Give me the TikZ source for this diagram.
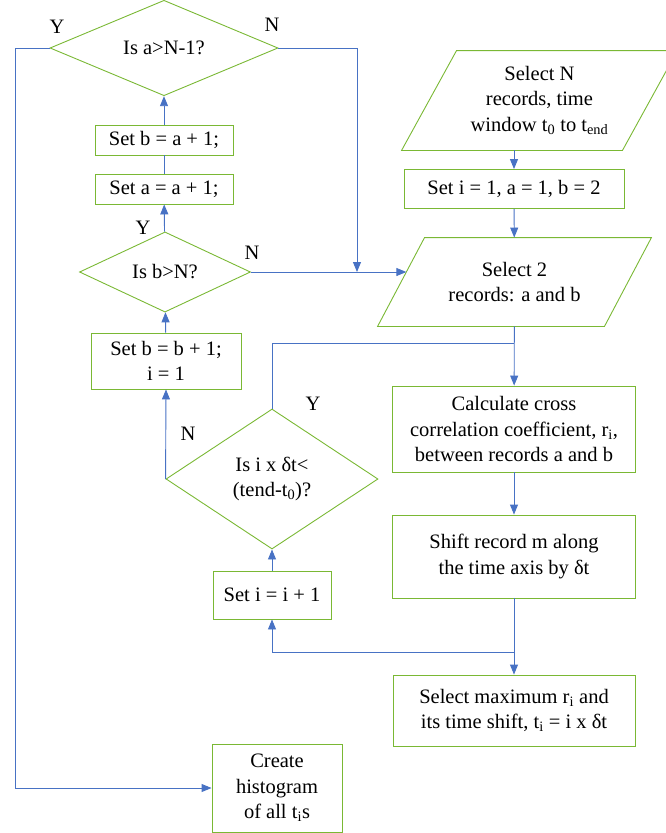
\documentclass[tikz,border=0pt]{standalone}
\usepackage{fontspec}
\setmainfont{Liberation Serif}
\usepackage{tikz}
\usetikzlibrary{arrows.meta,shapes.geometric}
\definecolor{boxgreen}{RGB}{122,184,52}
\definecolor{flowblue}{RGB}{72,114,196}

\begin{document}
\begin{tikzpicture}[x=1pt,y=-1pt,->,>={Triangle[length=10pt,width=8pt]},draw=flowblue,line width=0.9pt,font=\fontsize{20.5}{25.5}\selectfont]
    \tikzstyle{box}=[rectangle,draw=boxgreen,align=center,inner sep=0pt]
    \tikzstyle{decision}=[diamond,draw=boxgreen,align=center,inner sep=0pt]
    \tikzstyle{io}=[rectangle,align=center,inner sep=0pt]
    \tikzstyle{annot}=[inner sep=0pt]

    \useasboundingbox (0,0) rectangle (666,833);

    % Right column: pick records, correlate, shift
    \node[io,minimum width=220,minimum height=99] (selN) at (539.5,100.5) {Select N\\records, time\\window t\textsubscript{0} to t\textsubscript{end}};
    \node[box,minimum width=220,minimum height=39] (seti) at (514,189) {Set i = 1, a = 1, b = 2};
    \node[io,minimum width=226,minimum height=88] (sel2) at (514.5,282) {Select 2\\records: a and b};
    \node[box,minimum width=243,minimum height=86] (calc) at (514,429) {Calculate cross\\correlation coefficient, r\textsubscript{i},\\between records a and b};
    \node[box,minimum width=243,minimum height=83] (shift) at (514,556.5) {Shift record m along\\the time axis by δt};
    \node[box,minimum width=242,minimum height=71] (selmax) at (514,710.5) {Select maximum r\textsubscript{i} and\\its time shift, t\textsubscript{i} = i x δt};

    % Slanted outlines of the two input nodes
    \draw[-,boxgreen] ([xshift=-27.5]selN.south west) -- ([xshift=-27.5]selN.south east)
        -- ([xshift=27.5]selN.north east) -- ([xshift=27.5]selN.north west) -- cycle;
    \draw[-,boxgreen] ([xshift=-23.5]sel2.south west) -- ([xshift=-23.5]sel2.south east)
        -- ([xshift=23.5]sel2.north east) -- ([xshift=23.5]sel2.north west) -- cycle;

    % Left column: loop counters and tests
    \node[decision,minimum width=228,minimum height=85] (isa) at (164,48) {Is a>N-1?};
    \node[box,minimum width=138,minimum height=30] (setb) at (164,140) {Set b = a + 1;};
    \node[box,minimum width=138,minimum height=30] (seta) at (164,189) {Set a = a + 1;};
    \node[decision,minimum width=171,minimum height=72] (isb) at (165,272) {Is b>N?};
    \node[box,minimum width=150,minimum height=56] (setbb) at (166,361) {Set b = b + 1;\\i = 1};
    \node[decision,minimum width=212,minimum height=140] (isi) at (272,479) {Is i x δt<\\(tend-t\textsubscript{0})?};
    \node[box,minimum width=118,minimum height=48] (inc) at (272,595) {Set i = i + 1};
    \node[box,minimum width=130,minimum height=88] (hist) at (277,788) {Create\\histogram\\of all t\textsubscript{i}s};

    % Bend points
    \coordinate (yleft) at (15,0);
    \coordinate (njoin) at (357,272);
    \coordinate (yjoin) at (514,343);
    \coordinate (jn) at (514,652);

    % Annotate the branches
    \node[annot] (ya) at (57,27) {Y};
    \node[annot] (na) at (272,25) {N};
    \node[annot] (yb) at (143,228) {Y};
    \node[annot] (nb) at (252,253) {N};
    \node[annot] (yi) at (313,404) {Y};
    \node[annot] (ni) at (188,434) {N};

    \path (selN.south -| seti.north) edge (seti.north);
    \path (seti) edge (sel2);
    \path (sel2) edge (calc);
    \path (calc) edge (shift);
    \path (shift) edge (selmax);
    \draw (jn) -| (inc.south);
    \path (inc) edge (isi);
    \draw[-] (isi.north) |- (yjoin);
    \path (isi.west) edge (setbb.south);
    \path (setbb) edge (isb);
    \path (isb) edge (seta);
    \draw[-] (seta) -- (setb);
    \path (setb) edge (isa);
    \draw (isa.east) -| (njoin);
    \draw[shorten >=-5.3pt] (isb.east) -- (isb.east -| sel2.west);
    \draw (isa.west) -- (isa.west -| yleft) |- (hist.west);
\end{tikzpicture}
\end{document}
